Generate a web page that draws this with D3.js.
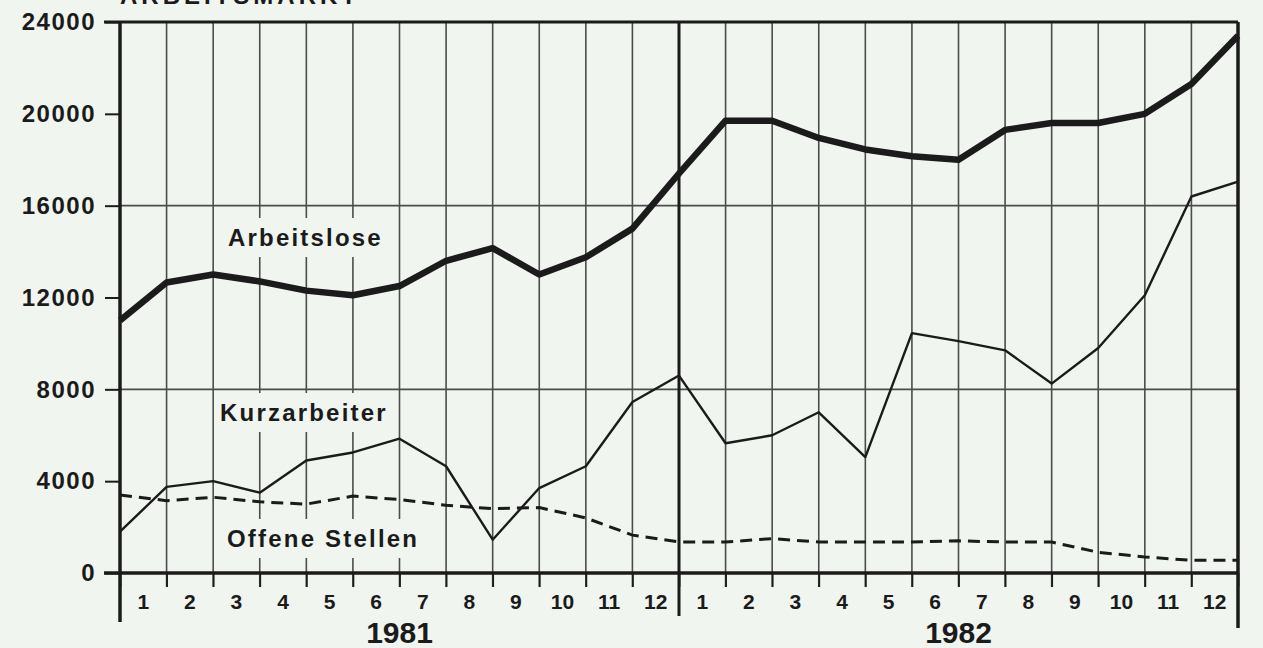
<!DOCTYPE html>
<html>
<head>
<meta charset="utf-8">
<script src="https://cdn.jsdelivr.net/npm/d3@7"></script>
<style>
  html, body { margin: 0; padding: 0; background: #f1f5f0; overflow: hidden; }
  svg { display: block; font-family: "Liberation Sans", Arial, sans-serif; font-weight: bold; }
</style>
</head>
<body>
<svg></svg>
<script>
// 데이터: 월 경계(0..24) 마다 값, 1981-01 ~ 1982-12
const months = [1, 2, 3, 4, 5, 6, 7, 8, 9, 10, 11, 12];
const years = ["1981", "1982"];
const yTicks = [0, 4000, 8000, 12000, 16000, 20000, 24000];

const arbeitslose = [11000, 12650, 13000, 12700, 12300, 12100, 12500, 13600, 14150, 13000, 13750, 15000,
  17400, 19700, 19700, 18950, 18450, 18150, 18000, 19300, 19600, 19600, 20000, 21300, 23400];
const kurzarbeiter = [1800, 3750, 4000, 3500, 4900, 5250, 5850, 4650, 1450, 3700, 4650, 7450,
  8600, 5650, 6000, 7000, 5050, 10450, 10100, 9700, 8250, 9800, 12100, 16400, 17050];
const offeneStellen = [3400, 3150, 3300, 3100, 3000, 3350, 3200, 2950, 2800, 2850, 2400, 1650,
  1350, 1350, 1500, 1350, 1350, 1350, 1400, 1350, 1350, 900, 700, 550, 550];

// SVG 설정
const width = 1263;
const height = 648;
const INK = '#1b1b1b';
const GRID = '#4a4d4a';
const BG = '#f1f5f0';

const svg = d3.select("svg")
  .attr("width", width)
  .attr("height", height);

const x = d3.scaleLinear().domain([0, 24]).range([120, 1238]);
const y = d3.scaleLinear().domain([0, 24000]).range([573, 22]);
const bounds = d3.range(0, 25);

// 위쪽 잘린 제목
svg.append("text")
  .attr("x", 120)
  .attr("y", 4)
  .attr("font-size", 24)
  .attr("letter-spacing", 4)
  .attr("fill", INK)
  .text("ARBEITSMARKT");

// 세로 격자선
svg.append("g")
  .selectAll("line")
  .data(bounds.filter(d => d > 0 && d < 24 && d !== 12))
  .enter().append("line")
  .attr("x1", d => x(d)).attr("x2", d => x(d))
  .attr("y1", y(24000)).attr("y2", y(0) + 14)
  .attr("stroke", GRID)
  .attr("stroke-width", 1.6);

// 가로 격자선 (8000, 16000)
svg.append("g")
  .selectAll("line")
  .data([8000, 16000])
  .enter().append("line")
  .attr("x1", x(0)).attr("x2", x(24))
  .attr("y1", d => y(d)).attr("y2", d => y(d))
  .attr("stroke", GRID)
  .attr("stroke-width", 1.8);

// 라벨 (배경 박스로 격자선 가림)
const labels = [
  { text: "Arbeitslose", x: 228, y: 246 },
  { text: "Kurzarbeiter", x: 220, y: 421 },
  { text: "Offene Stellen", x: 227, y: 547 }
];
const labelG = svg.append("g");
labels.forEach(l => {
  const t = labelG.append("text")
    .attr("x", l.x)
    .attr("y", l.y)
    .attr("font-size", 24)
    .attr("letter-spacing", 2.2)
    .attr("fill", INK)
    .text(l.text);
  const bb = t.node().getBBox();
  labelG.insert("rect", "text")
    .attr("x", bb.x - 6)
    .attr("y", bb.y - 6)
    .attr("width", bb.width + 8)
    .attr("height", bb.height + 12)
    .attr("fill", BG);
});

// Y 축
const yAxis = svg.append("g")
  .attr("transform", `translate(${x(0)},0)`)
  .call(d3.axisLeft(y).tickValues(yTicks).tickSize(15).tickPadding(9).tickFormat(d3.format("d")));
yAxis.select(".domain").remove();
yAxis.selectAll("line").attr("stroke", INK).attr("stroke-width", 2);
yAxis.selectAll("text")
  .attr("font-size", 24)
  .attr("letter-spacing", 1.5)
  .attr("fill", INK)
  .style("font-family", "'Liberation Sans', Arial, sans-serif")
  .style("font-weight", "bold");

// X 축 눈금 (월 경계)
const xAxis = svg.append("g")
  .attr("transform", `translate(0,${y(0)})`)
  .call(d3.axisBottom(x).tickValues(bounds).tickSize(14).tickFormat(""));
xAxis.select(".domain").remove();
xAxis.selectAll("line").attr("stroke", INK).attr("stroke-width", 1.8);

// 월 라벨
svg.append("g")
  .selectAll("text")
  .data(d3.range(24))
  .enter().append("text")
  .attr("x", d => x(d + 0.5))
  .attr("y", 609)
  .attr("text-anchor", "middle")
  .attr("font-size", 21)
  .attr("fill", INK)
  .text(d => months[d % 12]);

// 연도 라벨
svg.append("g")
  .selectAll("text")
  .data(years)
  .enter().append("text")
  .attr("x", (d, i) => x(i * 12 + 6))
  .attr("y", 643)
  .attr("text-anchor", "middle")
  .attr("font-size", 30)
  .attr("fill", INK)
  .text(d => d);

// 테두리 / 축선
svg.append("line") // 0 축
  .attr("x1", 104).attr("x2", x(24))
  .attr("y1", y(0)).attr("y2", y(0))
  .attr("stroke", INK).attr("stroke-width", 3.5);
svg.append("line") // 위 테두리
  .attr("x1", 104).attr("x2", x(24))
  .attr("y1", y(24000)).attr("y2", y(24000))
  .attr("stroke", INK).attr("stroke-width", 3);
svg.append("line") // 왼쪽 축
  .attr("x1", x(0)).attr("x2", x(0))
  .attr("y1", y(24000)).attr("y2", 622)
  .attr("stroke", INK).attr("stroke-width", 3.5);
svg.append("line") // 1981/1982 경계
  .attr("x1", x(12)).attr("x2", x(12))
  .attr("y1", y(24000)).attr("y2", 616)
  .attr("stroke", INK).attr("stroke-width", 3);
svg.append("line") // 오른쪽 테두리
  .attr("x1", x(24)).attr("x2", x(24))
  .attr("y1", y(24000)).attr("y2", 628)
  .attr("stroke", INK).attr("stroke-width", 3.5);

// 선 그리기
const line = d3.line()
  .x((d, i) => x(i))
  .y(d => y(d));

svg.append("path")
  .datum(offeneStellen)
  .attr("d", line)
  .attr("fill", "none")
  .attr("stroke", INK)
  .attr("stroke-width", 3)
  .attr("stroke-dasharray", "12 7");

svg.append("path")
  .datum(kurzarbeiter)
  .attr("d", line)
  .attr("fill", "none")
  .attr("stroke", INK)
  .attr("stroke-width", 2.4)
  .attr("stroke-linejoin", "round");

svg.append("path")
  .datum(arbeitslose)
  .attr("d", line)
  .attr("fill", "none")
  .attr("stroke", INK)
  .attr("stroke-width", 6.5)
  .attr("stroke-linejoin", "round");
</script>
</body>
</html>
